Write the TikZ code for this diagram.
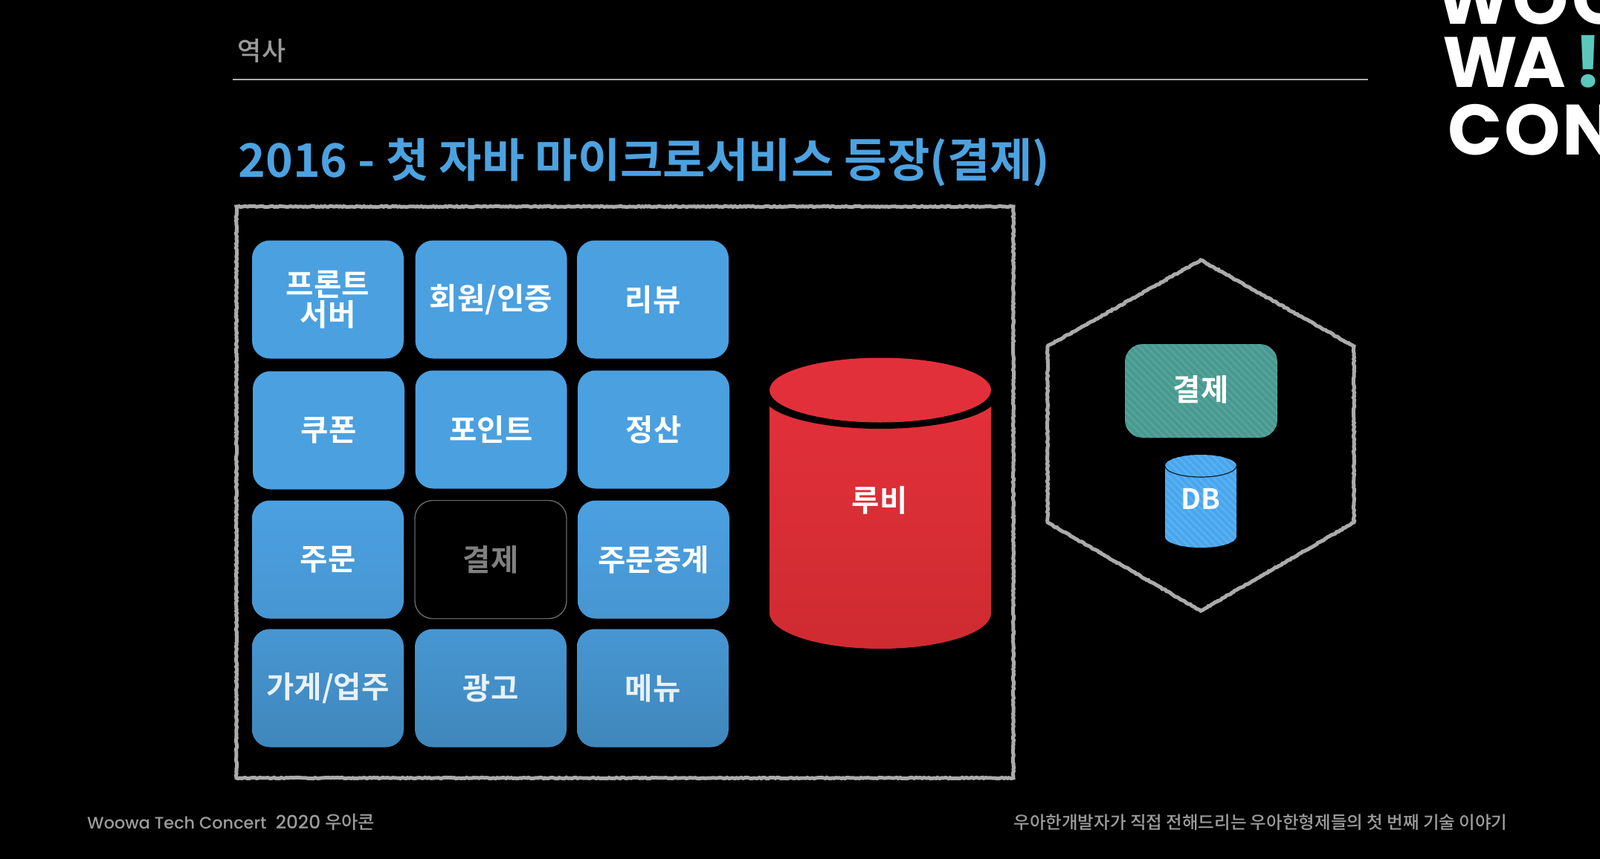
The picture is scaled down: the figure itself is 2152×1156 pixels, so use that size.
\documentclass[tikz,border=0pt]{standalone}
\usepackage{fontspec}
\setmainfont{Noto Sans CJK KR Medium}
\newfontfamily\krbold{Noto Sans CJK KR Bold}
\newfontfamily\logofont{Poppins}[BoldFont=* Bold]
\newfontfamily\latinf{Poppins Medium}
\usetikzlibrary{patterns.meta,decorations.pathmorphing,shadings}
\definecolor{topblue}{HTML}{4BA0E0}
\definecolor{midblue}{HTML}{4796D2}
\definecolor{lowblue}{HTML}{3F87BC}
\definecolor{chalk}{HTML}{ABABAB}
\definecolor{titleblue}{HTML}{4CA2E0}
\definecolor{teal}{HTML}{5BC8BB}
\definecolor{dimtext}{HTML}{9C9C9C}
\definecolor{rubytop}{HTML}{E2303A}
\definecolor{rubylow}{HTML}{CF2B31}
\definecolor{svcbase}{HTML}{4A9990}
\definecolor{svcstripe}{HTML}{56A59D}
\definecolor{dbbase}{HTML}{4AA6EC}
\definecolor{dbstripe}{HTML}{5AB2F3}
\newcommand{\lift}[1]{\raisebox{.7pt}{#1}}
\tikzset{
  tile/.style={rectangle,rounded corners=12pt,minimum width=102pt,minimum height=79.5pt,inner sep=0pt,
    align=center,text=white,font=\krbold\fontsize{20.3}{20.5}\selectfont},
  rowa/.style={tile,fill=topblue},
  rowb/.style={tile,fill=topblue},
  rowc/.style={tile,top color=topblue,bottom color=midblue},
  rowd/.style={tile,top color=midblue,bottom color=lowblue,text=white!88!lowblue},
  ghost/.style={tile,draw=white!40!black,line width=.7pt,fill=black,text=white!50!black},
  chalkline/.style={draw=chalk,line width=2.5pt,decorate,decoration={random steps,segment length=1.2pt,amplitude=.35pt}},
  logoletter/.style={text=white,anchor=base,inner sep=0pt,font=\logofont\bfseries\fontsize{48}{48}\selectfont},
  foot/.style={text=dimtext,inner sep=0pt,font=\fontsize{11.75}{13}\selectfont},
  lab/.style={text=white,inner sep=0pt,font=\krbold\fontsize{20.3}{21}\selectfont},
  stripes/.style={pattern={Lines[angle=135,distance=3.4pt,line width=1.2pt]}}
}
\begin{document}
\begin{tikzpicture}[x=.5pt,y=-.5pt]
\useasboundingbox[fill=black] (0,0) rectangle (2152,1156);
% header
\node[inner sep=0pt,text=dimtext,font=\fontsize{17.5}{19}\selectfont] (section) at (352,68) {역사};
\coordinate (ruleL) at (313,107);
\coordinate (ruleR) at (1840,107);
\draw[line width=1.4pt,color=white!68!black] (ruleL) -- (ruleR);
\node[anchor=west,inner sep=0pt,text=titleblue,font=\krbold\fontsize{31.2}{34}\selectfont] (title) at (320,219) {2016 - 첫 자바 마이크로서비스 등장(결제)};
% logo
\node[logoletter] (l1) at (1982,33) {W};
\node[logoletter] (l2) at (2072,33) {O};
\node[logoletter] (l3) at (2152,33) {O};
\node[logoletter] (l4) at (1991,118) {W};
\node[logoletter] (l5) at (2071,118) {A};
\node[logoletter,text=teal] (l6) at (2136,118) {!};
\node[logoletter] (l7) at (1984,208) {C};
\node[logoletter] (l8) at (2061,208) {O};
\node[logoletter] (l9) at (2138,208) {N};
% frame
\draw[chalkline] (318,278) rectangle (1363,1047);
% tiles
\node[rowa] (front) at (441,403) {\lift{프론트}\\\lift{서버}};
\node[rowa] (member) at (660.5,403) {\lift{회원/인증}};
\node[rowa] (review) at (878,403) {\lift{리뷰}};
\node[rowb] (coupon) at (442,579) {\lift{쿠폰}};
\node[rowb] (point) at (660.5,578) {\lift{포인트}};
\node[rowb] (settle) at (879,578) {\lift{정산}};
\node[rowc] (order) at (441,753) {\lift{주문}};
\node[ghost] (pay) at (660,753) {\lift{결제}};
\node[rowc] (relay) at (879,753) {\lift{주문중계}};
\node[rowd] (shop) at (441,926) {가게/업주};
\node[rowd] (ad) at (660,926) {광고};
\node[rowd] (menu) at (878,926) {메뉴};
% ruby cylinder
\shade[top color=rubytop,bottom color=rubylow] (1035,530) -- (1035,825) arc[start angle=180,end angle=360,x radius=74.5pt,y radius=24pt] -- (1333,530) -- cycle;
\fill[black] (1184,533) ellipse[x radius=157,y radius=44];
\fill[rubytop] (1184,525) ellipse[x radius=149,y radius=43.5];
\node[lab] (ruby) at (1183,673) {루비};
% hexagon
\draw[chalkline] (1615,350) -- (1821,466) -- (1821,703) -- (1615,822) -- (1409,703) -- (1409,466) -- cycle;
% payment service
\fill[svcbase,rounded corners=12pt] (1513,463) rectangle (1718,589);
\fill[stripes,pattern color=svcstripe,rounded corners=12pt] (1513,463) rectangle (1718,589);
\node[lab] (svc) at (1615,524) {결제};
% db cylinder
\fill[dbbase] (1567,627) -- (1567,722) arc[start angle=180,end angle=360,x radius=24pt,y radius=7.5pt] -- (1663,627) -- cycle;
\fill[stripes,pattern color=dbstripe] (1567,627) -- (1567,722) arc[start angle=180,end angle=360,x radius=24pt,y radius=7.5pt] -- (1663,627) -- cycle;
\fill[dbbase] (1615,627) ellipse[x radius=48,y radius=15];
\fill[stripes,pattern color=dbstripe] (1615,627) ellipse[x radius=48,y radius=15];
\draw[line width=.6pt,color=topblue!20!black] (1567,627) arc[start angle=180,end angle=360,x radius=24pt,y radius=7.5pt];
\node[lab,font=\krbold\fontsize{19}{21}\selectfont] (db) at (1615,671) {DB};
% footer
\node[foot,anchor=west,font=\latinf\fontsize{11.2}{13}\selectfont] (footl) at (117,1106.5) {Woowa Tech Concert\hspace{.55em}{\fontsize{12.4}{13}\selectfont 2020} {\rmfamily\fontsize{12.2}{13}\selectfont 우아콘}};
\node[foot,anchor=west] (footr) at (1363,1106.5) {우아한개발자가 직접 전해드리는 우아한형제들의 첫 번째 기술 이야기};
\end{tikzpicture}
\end{document}
